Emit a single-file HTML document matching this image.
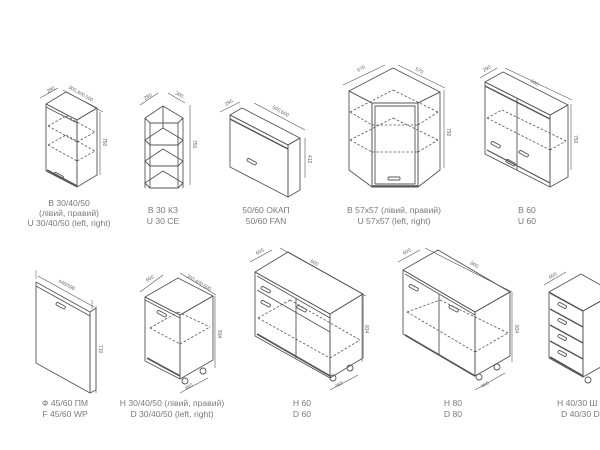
<!DOCTYPE html>
<html><head><meta charset="utf-8">
<style>
html,body{margin:0;padding:0;background:#fff;}
svg{display:block;}
text{font-family:"Liberation Sans","DejaVu Sans",sans-serif;fill:#7a7a7a;}
.l{font-size:8.6px;text-anchor:middle;}
.d{font-size:5px;fill:#666;}
</style></head>
<body>
<svg id="s" width="600" height="450" viewBox="0 0 600 450" xmlns="http://www.w3.org/2000/svg">
<g id="g" fill="none" stroke="#555" stroke-width="0.9" stroke-linejoin="round"></g>
<text class="l" x="69" y="206">B 30/40/50</text>
<text class="l" x="69" y="216">(лівий, правий)</text>
<text class="l" x="69" y="226">U 30/40/50 (left, right)</text>
<text class="l" x="163" y="213">B 30 КЗ</text>
<text class="l" x="163" y="224">U 30 CE</text>
<text class="l" x="266" y="213">50/60 ОКАП</text>
<text class="l" x="266" y="224">50/60 FAN</text>
<text class="l" x="394" y="213">B 57x57 (лівий, правий)</text>
<text class="l" x="394" y="224">U 57x57 (left, right)</text>
<text class="l" x="527" y="213">B 60</text>
<text class="l" x="527" y="224">U 60</text>
<text class="l" x="65" y="406">Ф 45/60 ПМ</text>
<text class="l" x="65" y="417">F 45/60 WP</text>
<text class="l" x="172" y="406">H 30/40/50 (лівий, правий)</text>
<text class="l" x="172" y="417">D 30/40/50 (left, right)</text>
<text class="l" x="302" y="406">H 60</text>
<text class="l" x="302" y="417">D 60</text>
<text class="l" x="453" y="406">H 80</text>
<text class="l" x="453" y="417">D 80</text>
<text class="l" x="557" y="406" style="text-anchor:start">H 40/30 Ш</text>
<text class="l" x="561" y="417" style="text-anchor:start">D 40/30 D</text>
</svg>
<script>
var g=document.getElementById('g'),NS='http://www.w3.org/2000/svg';
function el(t,a){var e=document.createElementNS(NS,t);for(var k in a)e.setAttribute(k,a[k]);g.appendChild(e);return e;}
function P(pts,extra){var a={points:pts.map(function(p){return p[0]+','+p[1]}).join(' ')};for(var k in extra)a[k]=extra[k];return el('polygon',a);}
function L(x1,y1,x2,y2,ex){var a={x1:x1,y1:y1,x2:x2,y2:y2};for(var k in ex)a[k]=ex[k];return el('line',a);}
function T(x,y,s,rot){var t=document.createElementNS(NS,'text');t.setAttribute('x',x);t.setAttribute('y',y);t.setAttribute('class','d');if(rot)t.setAttribute('transform','rotate('+rot+' '+x+' '+y+')');t.textContent=s;document.getElementById('s').appendChild(t);}
var DS={'stroke-dasharray':'2.5,1.8','stroke-width':'0.8'};
function box(O,A,B,H){
 var o=O,a=[O[0]+A[0],O[1]+A[1]],ab=[a[0]+B[0],a[1]+B[1]],b=[O[0]+B[0],O[1]+B[1]];
 function d(p){return [p[0],p[1]+H];}
 P([o,a,d(a),d(o)]);P([a,ab,d(ab),d(a)]);P([o,a,ab,b]);
 return {o:o,a:a,ab:ab,b:b,d:d};
}
function handle(x,y,w,ang){el('rect',{x:x,y:y,width:w,height:3,rx:1.2,transform:'rotate('+ang+' '+x+' '+y+')'});}
function dim(x1,y1,x2,y2,txt,tx,ty,rot){L(x1,y1,x2,y2,{'stroke-width':'0.6'});if(txt)T(tx,ty,txt,rot);}

// 1
box([46,104],[31,16],[20,-12],67);
L(46,107,77,123);L(47,170,77,186,{'stroke-width':'1.6'});
handle(55,172,10,28);
L(48,126,77,142,DS);L(77,142,95,132,DS);L(48,126,66,116,DS);L(66,116,95,132,DS);
L(48,145,77,161,DS);L(77,161,95,151,DS);L(48,145,66,135,DS);L(66,135,95,151,DS);
dim(40,98,58,88,'290',48,93,-30);dim(63,90,103,112,'300,400,500',68,88,30);dim(100,112,100,175,'750',103,138,90);

// 2 corner shelf
[118,140,161,183].forEach(function(y){P([[145,y],[163,y-12],[183,y],[178,y+5],[150,y+5]]);});
L(145,118,145,188);L(150,123,150,188);L(183,118,183,188);L(178,123,178,188);L(163,106,163,128);
dim(140,105,158,93,'290',145,100,-30);dim(168,93,185,103,'300',175,94,30);dim(190,105,190,185,'750',193,140,90);

// 3 hood
box([230,115],[58,30],[12,-7],52);L(230,119,288,149,{'stroke-width':'1.4'});
handle(248,158,10,28);
dim(220,112,240,102,'290',226,106,-30);dim(254,103,305,130,'500,600',272,108,30);dim(305,138,305,178,'412',308,155,90);

// 4 corner 57
P([[349,91],[393,68],[440,92],[418,103],[372,103]]);
P([[349,91],[372,103],[372,187],[349,170]]);P([[418,103],[440,92],[440,170],[418,187]]);
el('rect',{x:372,y:103,width:46,height:84});el('rect',{x:375,y:106,width:40,height:78});
el('rect',{x:388,y:177,width:12,height:3,rx:1});L(372,186,418,186,{'stroke-width':'1.6'});
L(350,112,393,90,DS);L(393,90,438,112,DS);L(350,112,372,125,DS);L(418,125,438,112,DS);L(372,125,418,125,DS);
L(350,140,393,118,DS);L(393,118,438,140,DS);L(350,140,372,152,DS);L(418,152,438,140,DS);L(372,152,418,152,DS);
dim(343,85,385,65,'570',358,72,-28);dim(398,65,445,88,'570',415,70,28);dim(444,90,444,168,'750',447,128,90);

// 5 B60
box([485,82],[65,33],[18,-10],72);L(485,86,550,119,{'stroke-width':'1.4'});
L(517,98,517,170);L(487,150,550,183,{'stroke-width':'1.2'});
handle(492,141,10,28);handle(520,150,10,28);handle(507,159,10,28);
L(487,118,550,150,DS);L(550,150,566,141,DS);L(487,118,502,110,DS);L(502,110,566,141,DS);
dim(480,78,497,68,'290',484,72,-30);dim(505,68,572,100,'600',530,82,30);dim(571,104,571,170,'750',574,135,90);

// row 2 F panel
P([[36,282],[90,312],[90,393],[36,363]]);P([[90,312],[96,308],[96,390],[90,393]]);
L(36,286,90,316);handle(57,302,10,28);
dim(38,276,94,307,'',0,0);L(36,279,36,270,{'stroke-width':'0.5'});L(92,309,92,300,{'stroke-width':'0.5'});
dim(96,306,96,393,'710',99,345,90);T(58,282,'446/596',28);

// H30
box([145,297],[35,18],[33,-19],64);L(145,300,180,318);L(147,358,180,376,{'stroke-width':'1.6'});
handle(158,310,10,28);
L(150,328,180,344,DS);L(180,344,210,327,DS);L(150,328,178,312,DS);L(178,312,210,327,DS);
el('circle',{cx:185,cy:381,r:3});el('circle',{cx:203,cy:371,r:3});
dim(140,292,163,275,'600',147,282,-30);dim(180,273,216,295,'300,400,500',186,277,30);dim(215,296,215,368,'834',218,330,90);dim(180,393,208,378,'460',186,390,-30);

// H60
box([255,272],[75,42],[33,-20],64);L(257,276,330,318);L(257,290,330,332);
L(296,298,296,358);L(257,334,330,376,{'stroke-width':'1.6'});
handle(262,286,10,28);handle(298,305,10,28);handle(262,300,10,28);
L(258,318,330,358,DS);L(330,358,360,340,DS);L(258,318,290,300,DS);L(290,300,360,340,DS);
el('circle',{cx:333,cy:378,r:3});el('circle',{cx:350,cy:368,r:3});
dim(250,262,272,250,'600',257,255,-30);dim(280,248,366,296,'600',310,262,30);dim(362,295,362,362,'834',365,325,90);dim(330,390,358,375,'460',336,388,-30);

// H80
box([403,270],[72,42],[35,-20],64);L(405,274,475,315);
L(439,294,439,355);L(405,335,475,376,{'stroke-width':'1.6'});
handle(410,284,10,28);handle(450,305,10,28);
L(407,312,475,352,DS);L(475,352,508,333,DS);L(407,312,440,300,DS);L(440,300,508,333,DS);
el('circle',{cx:479,cy:377,r:3});el('circle',{cx:497,cy:367,r:3});
dim(398,262,420,250,'600',404,255,-30);dim(425,248,512,292,'800',470,264,30);dim(512,292,512,362,'834',515,325,90);dim(475,390,505,373,'460',482,388,-30);

// H40 drawers
box([549,292],[34,19],[32,-18],66);
[311,327,343,359].forEach(function(y){L(550,y-18,583,y,{'stroke-width':'1.4'});handle(559,y-9,9,28);});
L(550,357,583,376,{'stroke-width':'1.6'});el('circle',{cx:588,cy:380,r:3});
dim(544,285,566,272,'600',550,279,-30);
</script>
</body></html>
